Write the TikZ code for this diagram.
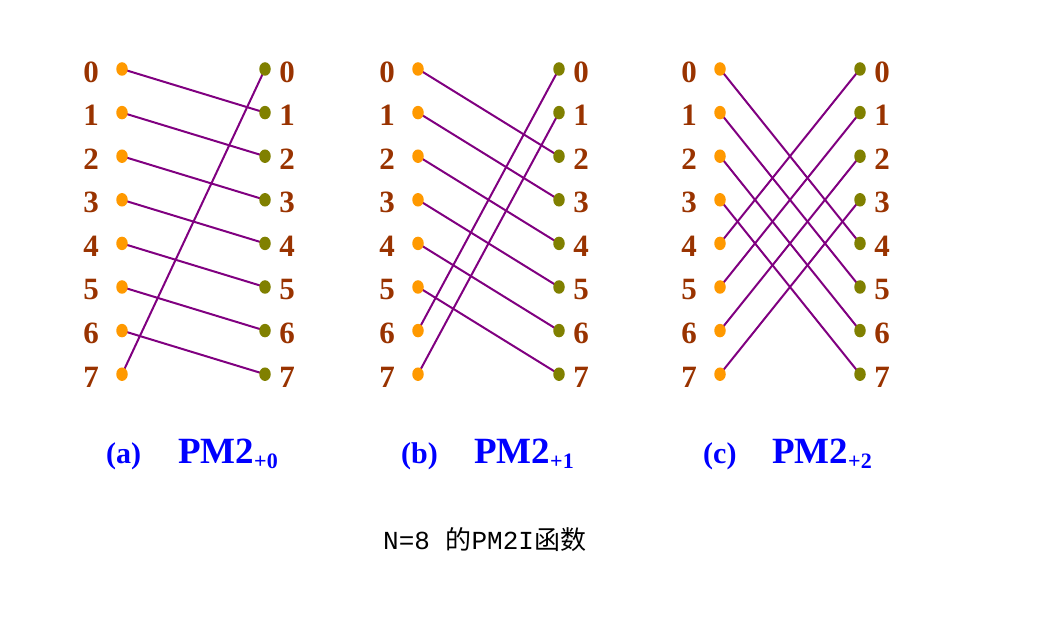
\documentclass[tikz,border=0pt]{standalone}
\usepackage{fontspec}
\setmainfont{Liberation Serif}
\newfontfamily\cjk{Noto Sans CJK SC}
\newfontfamily\capmono{Liberation Mono}
\usetikzlibrary{shapes.geometric}
\definecolor{numc}{HTML}{993300}
\definecolor{ldot}{HTML}{FF9900}
\definecolor{rdot}{HTML}{808000}
\definecolor{wire}{HTML}{800080}
\definecolor{capc}{HTML}{0000FF}
\tikzset{
  ldotst/.style={ellipse,fill=ldot,minimum width=11.5pt,minimum height=13.5pt,inner sep=0pt},
  rdotst/.style={ellipse,fill=rdot,minimum width=11.5pt,minimum height=13.5pt,inner sep=0pt},
  numst/.style={text=numc,font=\fontsize{31}{32}\selectfont\bfseries,inner sep=0pt},
  wirest/.style={draw=wire,line width=2pt},
  labst/.style={text=capc,font=\fontsize{30}{32}\selectfont\bfseries,inner sep=0pt,anchor=base west},
  pmst/.style={text=capc,font=\fontsize{37}{38}\selectfont\bfseries,inner sep=0pt,anchor=base west},
  captst/.style={font=\fontsize{26}{28}\selectfont,inner sep=0pt}
}
\newcommand{\pmsub}[1]{\raisebox{-5pt}{\fontsize{22}{22}\selectfont#1}}
\begin{document}
\begin{tikzpicture}[x=1pt,y=-1pt]
\useasboundingbox (0,0) rectangle (1060,617);
\foreach \p/\lx/\rx/\sh in {a/122/265/1,b/418/559/2,c/720/860/4}{
  \foreach \i in {0,...,7}{
    \pgfmathsetmacro{\yy}{69+43.6*\i}
    \coordinate (\p lc\i) at (\lx,\yy);
    \coordinate (\p rc\i) at (\rx,\yy);
  }
  \foreach \i in {0,...,7}{
    \pgfmathtruncatemacro{\j}{mod(\i+\sh,8)}
    \draw[wirest] (\p lc\i) -- (\p rc\j);
  }
  \foreach \i in {0,...,7}{
    \node[ldotst] (\p l\i) at (\p lc\i) {};
    \node[rdotst] (\p r\i) at (\p rc\i) {};
    \node[numst] (\p ln\i) at ([xshift=-31pt,yshift=-3pt]\p lc\i) {\i};
    \node[numst] (\p rn\i) at ([xshift=22pt,yshift=-3pt]\p rc\i) {\i};
  }
}
\node[labst] (capa) at (106,463) {(a)};
\node[pmst] (pma) at (178,463) {PM2\pmsub{+0}};
\node[labst] (capb) at (401,463) {(b)};
\node[pmst] (pmb) at (474,463) {PM2\pmsub{+1}};
\node[labst] (capc) at (703,463) {(c)};
\node[pmst] (pmc) at (772,463) {PM2\pmsub{+2}};
\node[captst,anchor=base west] (cap) at (383,549) {\capmono N=8 \cjk 的\capmono PM2I\cjk 函数};
\end{tikzpicture}
\end{document}
